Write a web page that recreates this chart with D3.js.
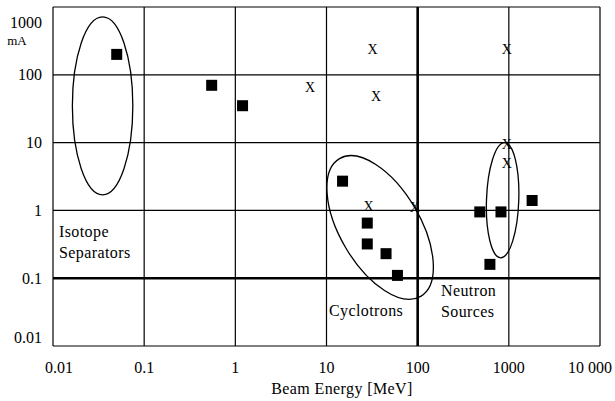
<!DOCTYPE html>
<html>
<head>
<meta charset="utf-8">
<script src="https://cdn.jsdelivr.net/npm/d3@7"></script>
<style>
  body { margin: 0; background: #fff; }
</style>
</head>
<body>
<div id="chart"></div>
<script>
// tick values on both log axes
var energyTicks = [0.01, 0.1, 1, 10, 100, 1000, 10000];
var energyTickLabels = ['0.01', '0.1', '1', '10', '100', '1000', '10 000'];
var currentTicks = [0.01, 0.1, 1, 10, 100, 1000];
var currentTickLabels = ['0.01', '0.1', '1', '10', '100', '1000'];

// filled squares: beam energy [MeV], current [mA]
var squareEnergy = [0.05, 0.55, 1.2, 15, 28, 28, 45, 60, 480, 820, 1800, 620];
var squareCurrent = [200, 70, 35, 2.7, 0.65, 0.32, 0.23, 0.11, 0.95, 0.95, 1.4, 0.16];

// "x" markers
var crossEnergy = [6.6, 32, 35, 950, 29, 93, 950, 950];
var crossCurrent = [66, 240, 49, 240, 1.15, 1.1, 9.5, 5];

// ellipses drawn round each group: ends of the long axis, and short/long ratio
var groupNames = ['Isotope Separators', 'Cyclotrons', 'Neutron Sources'];
var groupEnergyA = [0.035, 13.9, 900];
var groupCurrentA = [713, 5.8, 10];
var groupEnergyB = [0.035, 108, 812];
var groupCurrentB = [1.7, 0.054, 0.2];
var groupRatio = [0.34, 0.5, 0.28];

var width = 615, height = 401;
var serif = '"Liberation Serif", "Times New Roman", Times, serif';

var svg = d3.select('#chart')
  .append('svg')
  .attr('width', width)
  .attr('height', height)
  .attr('font-family', serif);

var x = d3.scaleLog().domain([0.01, 10000]).range([53, 600]);
var y = d3.scaleLog().domain([0.01, 1000]).range([346, 7]);

// grid
svg.append('g')
  .selectAll('line')
  .data(energyTicks)
  .enter()
  .append('line')
  .attr('x1', function(d) { return x(d); })
  .attr('x2', function(d) { return x(d); })
  .attr('y1', y(0.01))
  .attr('y2', y(1000))
  .attr('stroke', '#000')
  .attr('stroke-width', function(d) { return d == 100 ? 2.6 : 1.2; });

svg.append('g')
  .selectAll('line')
  .data(currentTicks)
  .enter()
  .append('line')
  .attr('x1', x(0.01))
  .attr('x2', x(10000))
  .attr('y1', function(d) { return y(d); })
  .attr('y2', function(d) { return y(d); })
  .attr('stroke', '#000')
  .attr('stroke-width', function(d) { return d == 0.1 ? 2.6 : 1.2; });

// tick labels
svg.append('g')
  .selectAll('text')
  .data(energyTicks)
  .enter()
  .append('text')
  .attr('x', function(d) { return Math.max(59, Math.min(590, x(d))); })
  .attr('y', 373)
  .attr('text-anchor', 'middle')
  .attr('font-size', '16px')
  .text(function(d, i) { return energyTickLabels[i]; });

svg.append('g')
  .selectAll('text')
  .data(currentTicks)
  .enter()
  .append('text')
  .attr('x', 42)
  .attr('y', function(d) { return Math.max(22, Math.min(337, y(d))); })
  .attr('dy', '0.35em')
  .attr('text-anchor', 'end')
  .attr('font-size', '16px')
  .text(function(d, i) { return currentTickLabels[i]; });

svg.append('text')
  .attr('x', 17)
  .attr('y', 45)
  .attr('font-size', '13px')
  .attr('text-anchor', 'middle')
  .text('mA');

svg.append('text')
  .attr('x', 342)
  .attr('y', 394)
  .attr('text-anchor', 'middle')
  .attr('font-size', '16px')
  .attr('letter-spacing', '0.4')
  .text('Beam Energy [MeV]');

// group ellipses
svg.append('g')
  .selectAll('ellipse')
  .data(groupNames)
  .enter()
  .append('ellipse')
  .each(function(d, i) {
    var ax = x(groupEnergyA[i]), ay = y(groupCurrentA[i]);
    var bx = x(groupEnergyB[i]), by = y(groupCurrentB[i]);
    var cx = (ax + bx) / 2, cy = (ay + by) / 2;
    var len = Math.sqrt((bx - ax) * (bx - ax) + (by - ay) * (by - ay));
    var ang = Math.atan2(by - ay, bx - ax) * 180 / Math.PI;
    d3.select(this)
      .attr('cx', 0).attr('cy', 0)
      .attr('rx', len / 2)
      .attr('ry', len / 2 * groupRatio[i])
      .attr('transform', 'translate(' + cx + ',' + cy + ') rotate(' + ang + ')');
  })
  .attr('fill', 'none')
  .attr('stroke', '#000')
  .attr('stroke-width', 1.3);

// group labels
var labels = [
  { lines: ['Isotope', 'Separators'], x: 59, y: 237 },
  { lines: ['Cyclotrons'], x: 329, y: 316 },
  { lines: ['Neutron', 'Sources'], x: 441, y: 296 }
];
labels.forEach(function(l) {
  var t = svg.append('text')
    .attr('x', l.x)
    .attr('y', l.y)
    .attr('font-size', '16px')
    .attr('letter-spacing', '0.4');
  l.lines.forEach(function(s, j) {
    t.append('tspan')
      .attr('x', l.x)
      .attr('dy', j == 0 ? 0 : 21)
      .text(s);
  });
});

// square points
svg.append('g')
  .selectAll('rect')
  .data(squareEnergy)
  .enter()
  .append('rect')
  .attr('x', function(d) { return x(d) - 5.5; })
  .attr('y', function(d, i) { return y(squareCurrent[i]) - 5.5; })
  .attr('width', 11)
  .attr('height', 11)
  .attr('fill', '#000');

// x markers
svg.append('g')
  .selectAll('text')
  .data(crossEnergy)
  .enter()
  .append('text')
  .attr('x', function(d) { return x(d); })
  .attr('y', function(d, i) { return y(crossCurrent[i]); })
  .attr('dy', '0.35em')
  .attr('text-anchor', 'middle')
  .attr('font-size', '14px')
  .text('X');
</script>
</body>
</html>
